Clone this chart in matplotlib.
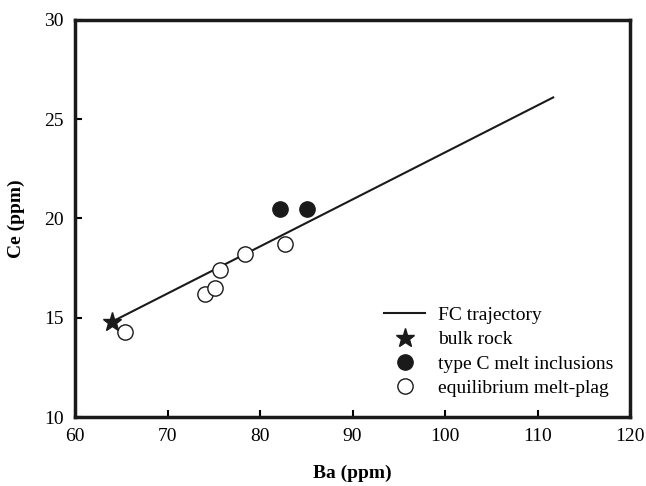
import numpy as np
import matplotlib.pyplot as plt

plt.rcParams['font.family'] = ['Liberation Serif', 'DejaVu Serif']

# FC trajectory end points
fc_ba = [64.0, 111.7]
fc_ce = [14.8, 26.1]

bulk_ba = [64.0]
bulk_ce = [14.8]

typec_ba = [82.2, 85.1]
typec_ce = [20.5, 20.5]

eq_ba = [65.4, 74.0, 75.1, 75.7, 78.4, 82.7]
eq_ce = [14.3, 16.2, 16.5, 17.4, 18.2, 18.7]

fig = plt.figure(figsize=(6.46, 4.86), dpi=100)
ax = fig.add_axes([75 / 646, 1 - 417 / 486, 555 / 646, 397 / 486])

ax.plot(fc_ba, fc_ce, color='#1a1a1a', lw=1.5, label='FC trajectory', zorder=2)
ax.plot(bulk_ba, bulk_ce, ls='none', marker='*', ms=14, color='#1a1a1a',
        label='bulk rock', zorder=4)
ax.plot(typec_ba, typec_ce, ls='none', marker='o', ms=11, color='#1a1a1a',
        label='type C melt inclusions', zorder=3)
ax.plot(eq_ba, eq_ce, ls='none', marker='o', ms=11, mfc='white', mec='#1a1a1a',
        mew=1.0, label='equilibrium melt-plag', zorder=3)

ax.set_xlim(60, 120)
ax.set_ylim(10, 30)
ax.set_xticks(np.arange(60, 121, 10))
ax.set_yticks(np.arange(10, 31, 5))
ax.tick_params(direction='in', length=5, width=1.5, labelsize=14, pad=8)
for s in ax.spines.values():
    s.set_linewidth(2.5)
    s.set_color('#1a1a1a')

ax.set_xlabel('Ba (ppm)', fontsize=14, fontweight='bold', labelpad=14)
ax.set_ylabel('Ce (ppm)', fontsize=14, fontweight='bold', labelpad=14)

ax.legend(loc='upper left', frameon=False, fontsize=14, handlelength=2.1,
          handletextpad=0.67, labelspacing=0.34, borderpad=0, borderaxespad=0,
          markerscale=1.0, bbox_to_anchor=(0.557, 0.278))

fig.savefig('out.png', dpi=100)
